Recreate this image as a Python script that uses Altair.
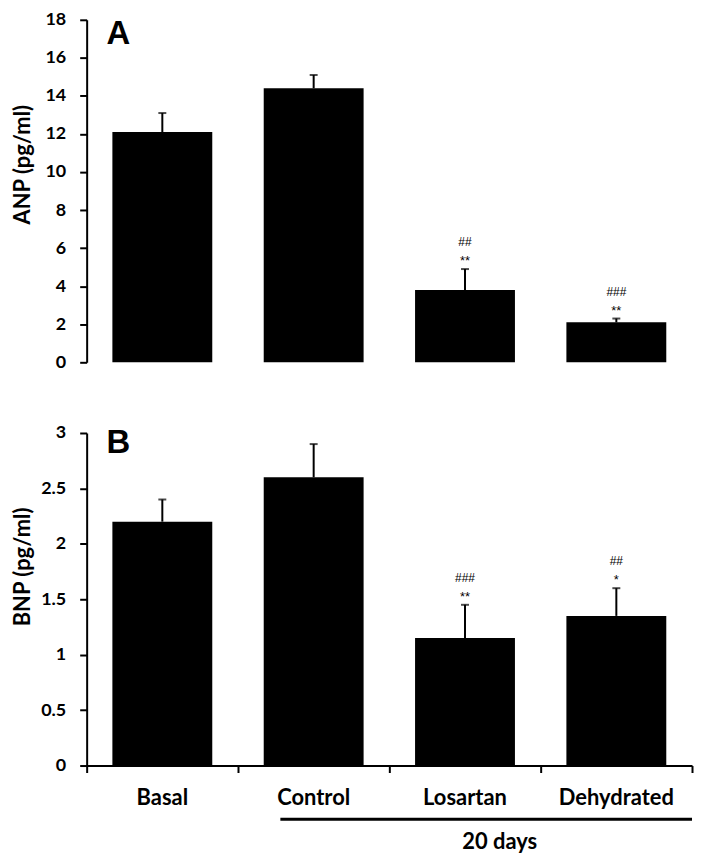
import altair as alt
import pandas as pd

# ---- data ----
categories = ["Basal", "Control", "Losartan", "Dehydrated"]
anp_mean = [12.1, 14.4, 3.8, 2.1]
anp_sem = [1.0, 0.7, 1.1, 0.2]
anp_stars = ["", "", "**", "**"]
anp_hashes = ["", "", "##", "###"]
bnp_mean = [2.2, 2.6, 1.15, 1.35]
bnp_sem = [0.2, 0.3, 0.3, 0.25]
bnp_stars = ["", "", "**", "*"]
bnp_hashes = ["", "", "###", "##"]
anp_ticks = [0, 2, 4, 6, 8, 10, 12, 14, 16, 18]
bnp_ticks = [0, 0.5, 1, 1.5, 2, 2.5, 3]
boundary_ticks = [-0.5, 0.5, 1.5, 2.5, 3.5]
group_label = ["20 days"]
group_start = [0.78]
group_end = [3.5]
group_center = [2.23]

# ---- styling ----
W = 608
H_TOP = 344
H_BOT = 334
HALF = 0.33
FONT = "Lato"


def frame(mean, sem, stars, hashes):
    df = pd.DataFrame({
        "cat": categories,
        "idx": list(range(len(categories))),
        "mean": mean,
        "sem": sem,
        "stars": stars,
        "hashes": hashes,
    })
    df["x0"] = df["idx"] - HALF
    df["x1"] = df["idx"] + HALF
    df["top"] = df["mean"] + df["sem"]
    return df


def panel(df, title, ymax, ticks, height, letter, letter_y, title_y, show_x):
    xscale = alt.Scale(domain=[-0.5, 3.5], nice=False, zero=False)
    yscale = alt.Scale(domain=[0, ymax], nice=False)
    if show_x:
        xaxis = alt.Axis(values=boundary_ticks, labels=False, title=None, grid=False,
                         tickSize=7, tickWidth=2, domainWidth=2,
                         domainColor="black", tickColor="black")
    else:
        xaxis = None
    yaxis = alt.Axis(values=ticks, title=title, grid=False, tickSize=7, tickWidth=2,
                     domainWidth=2, domainColor="black", tickColor="black",
                     labelPadding=14, labelFont=FONT, labelFontSize=18,
                     labelFontWeight="bold", labelColor="black",
                     titleFont=FONT, titleFontSize=22, titleFontWeight="bold",
                     titleColor="black", titleX=-64, titleY=title_y, titleAngle=-90,
                     titleBaseline="middle", titleAlign="center", format="~g")
    X = lambda f: alt.X(f, scale=xscale, axis=xaxis, title=None)
    Y = lambda f: alt.Y(f, scale=yscale, axis=yaxis)

    base = alt.Chart(df)
    bars = base.mark_bar(color="black").encode(
        x=X("x0:Q"), x2="x1", y=Y("mean:Q"), y2=alt.datum(0))
    stems = base.mark_rule(color="black", strokeWidth=2).encode(
        x=X("idx:Q"), y=Y("mean:Q"), y2="top")
    caps = base.mark_tick(color="black", orient="horizontal", size=8, thickness=2).encode(
        x=X("idx:Q"), y=Y("top:Q"))
    stars = base.mark_text(font="Liberation Sans", fontSize=13, baseline="alphabetic",
                           dy=-4, color="black").encode(
        x=X("idx:Q"), y=Y("top:Q"), text="stars:N")
    hashes = base.mark_text(font="Liberation Sans", fontSize=12, baseline="alphabetic",
                            dy=-23, color="black").encode(
        x=X("idx:Q"), y=Y("top:Q"), text="hashes:N")
    lt = alt.Chart(pd.DataFrame({"t": [letter]})).mark_text(
        font="Liberation Sans", fontSize=33, fontWeight="bold", align="left",
        baseline="alphabetic", color="black").encode(
        text="t:N", x=alt.value(20), y=alt.value(letter_y))
    layers = [bars, stems, caps, stars, hashes, lt]
    if show_x:
        cat_lbl = base.mark_text(font=FONT, fontSize=22, fontWeight="bold",
                                 baseline="alphabetic", color="black").encode(
            x=X("idx:Q"), y=alt.value(height + 40), text="cat:N")
        gdf = pd.DataFrame({"label": group_label, "start": group_start,
                            "end": group_end, "center": group_center})
        gline = alt.Chart(gdf).mark_rule(color="black", strokeWidth=3).encode(
            x=X("start:Q"), x2="end", y=alt.value(height + 54))
        gtext = alt.Chart(gdf).mark_text(font=FONT, fontSize=22, fontWeight="bold",
                                         baseline="alphabetic", color="black").encode(
            x=X("center:Q"), y=alt.value(height + 84), text="label:N")
        layers += [cat_lbl, gline, gtext]
    return alt.layer(*layers).properties(width=W, height=height)


top = panel(frame(anp_mean, anp_sem, anp_stars, anp_hashes), "ANP (pg/ml)", 18,
            anp_ticks, H_TOP, "A", 24, 145, False)
bottom = panel(frame(bnp_mean, bnp_sem, bnp_stars, bnp_hashes), "BNP (pg/ml)", 3,
               bnp_ticks, H_BOT, "B", 20, 134, True)

chart = alt.vconcat(top, bottom, spacing=40).properties(
    padding={"left": 3, "right": 0, "top": 1, "bottom": 0}
).configure_view(stroke=None)

chart.save("out.html", embed_options={"renderer": "svg", "actions": False})
